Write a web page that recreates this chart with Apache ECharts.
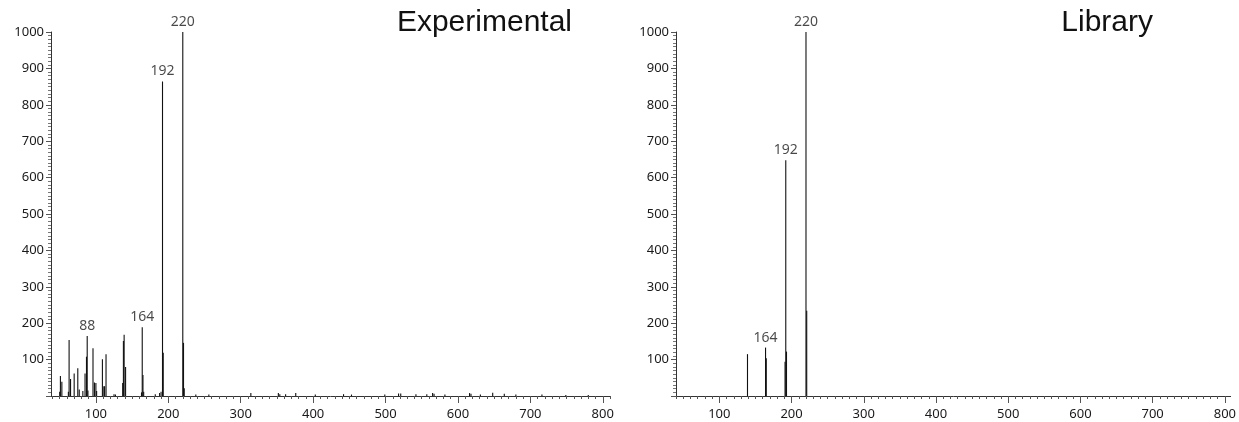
<!DOCTYPE html>
<html>
<head>
<meta charset="utf-8">
<script src="https://cdn.jsdelivr.net/npm/echarts@6/dist/echarts.min.js"></script>
<style>
html,body{margin:0;padding:0;background:#fff;}
#c{width:1239px;height:422px;}
</style>
</head>
<body>
<div id="c"></div>
<script>
// Experimental spectrum (m/z, relative intensity)
const expMz  = [50,51,53,62,63,65,70,75,77,82,85,87,88,89,96,98,100,101,109,111,112,114,125,127,137,138,139,141,163,164,165,166,182,188,190,192,193,220,221,222,238,256,
                314,352,354,362,376,403,442,453,499,518,521,542,557,565,567,582,616,618,631,648,664,680,716,749,780];
const expInt = [12,55,39,12,154,47,62,76,18,14,62,108,165,15,131,37,36,14,101,27,27,115,5,4,36,151,168,80,10,189,58,12,5,8,12,864,119,1000,146,21,4,4,
                8,8,5,5,8,4,5,4,4,7,7,5,5,8,6,4,8,6,4,9,6,4,4,3,3];
const expLabels = [88,164,192,220];

// Library spectrum
const libMz  = [139,164,165,191,192,193,220,221];
const libInt = [115,133,104,94,648,122,1000,234];
const libLabels = [164,192,220];

const xTickMinor = [];
for (let v = 40; v <= 810; v += 10) xTickMinor.push(v);
const xTickMajor = [100,200,300,400,500,600,700,800];
const yLabels = [100,200,300,400,500,600,700,800,900,1000];

const titles = ['Experimental','Library'];

const FONT = 'Noto Sans';
const pair = (a, b) => a.map((m, i) => [m, b[i]]);

function renderStick(params, api) {
  const m = api.value(0), v = api.value(1);
  const p0 = api.coord([m, 0]);
  const p1 = api.coord([m, v]);
  return {
    type: 'line',
    shape: {x1: p0[0], y1: p0[1], x2: p1[0], y2: p1[1]},
    style: {stroke: '#111', lineWidth: 1.1}
  };
}

const grids = [
  {left: 51, top: 32, width: 559, height: 364},
  {left: 676, top: 32, width: 556, height: 364}
];
const ranges = [[38, 810], [40, 808]];

const xAxes = [], yAxes = [];
ranges.forEach((r, g) => {
  xAxes.push({
    type: 'value', gridIndex: g, min: r[0], max: r[1], position: 'bottom',
    axisLine: {show: true, onZero: false, lineStyle: {color: '#333', width: 1}},
    axisTick: {show: true, length: 3, customValues: xTickMinor.filter(v => v >= r[0] && v <= r[1]), lineStyle: {color: '#555'}},
    axisLabel: {show: false},
    splitLine: {show: false}
  });
  xAxes.push({
    type: 'value', gridIndex: g, min: r[0], max: r[1], position: 'bottom',
    axisLine: {show: false, onZero: false},
    axisTick: {show: true, length: 7, customValues: xTickMajor, lineStyle: {color: '#555'}},
    axisLabel: {show: true, customValues: xTickMajor, margin: 12, fontFamily: FONT, fontSize: 13, color: '#1a1a1a'},
    splitLine: {show: false}
  });
  yAxes.push({
    type: 'value', gridIndex: g, min: 0, max: 1000, interval: 100,
    axisLine: {show: true, lineStyle: {color: '#333', width: 1}},
    axisTick: {show: true, length: 5, lineStyle: {color: '#555'}},
    minorTick: {show: true, splitNumber: 10, length: 3, lineStyle: {color: '#777'}},
    axisLabel: {show: true, margin: 7, fontFamily: FONT, fontSize: 13, color: '#1a1a1a',
      formatter: v => (yLabels.indexOf(v) >= 0 ? String(v) : '')},
    splitLine: {show: false}, minorSplitLine: {show: false}
  });
});

const specs = [[expMz, expInt, expLabels], [libMz, libInt, libLabels]];
const series = [];
specs.forEach((s, g) => {
  const data = pair(s[0], s[1]);
  series.push({
    type: 'custom', xAxisIndex: g * 2, yAxisIndex: g, renderItem: renderStick,
    data: data, silent: true, animation: false, clip: false
  });
  series.push({
    type: 'scatter', xAxisIndex: g * 2, yAxisIndex: g, symbolSize: 0, silent: true, animation: false,
    data: data.filter(d => s[2].indexOf(d[0]) >= 0),
    label: {show: true, position: 'top', distance: 3, formatter: p => String(p.value[0]),
      fontFamily: FONT, fontSize: 14, color: '#1a1a1a'}
  });
});

const chart = echarts.init(document.getElementById('c'), null, {renderer: 'canvas'});
chart.setOption({
  animation: false,
  backgroundColor: '#fff',
  grid: grids,
  xAxis: xAxes,
  yAxis: yAxes,
  series: series,
  graphic: [
    {type: 'text', right: 1239 - 572, top: 8, style: {text: titles[0], font: '30px "Liberation Sans", Arial, sans-serif', fill: '#111'}},
    {type: 'text', right: 1239 - 1153, top: 8, style: {text: titles[1], font: '30px "Liberation Sans", Arial, sans-serif', fill: '#111'}}
  ]
});
</script>
</body>
</html>
